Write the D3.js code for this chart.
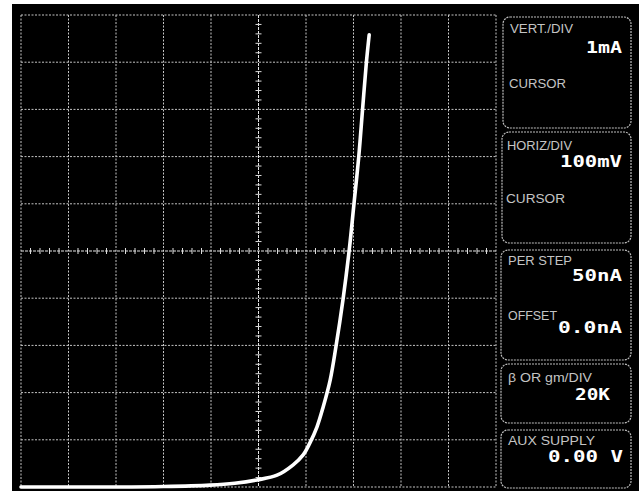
<!DOCTYPE html>
<html>
<head>
<meta charset="utf-8">
<script src="https://cdn.jsdelivr.net/npm/d3@7"></script>
<style>
  html, body { margin: 0; padding: 0; background: #fff; }
  svg { display: block; }
</style>
</head>
<body>
<svg id="chart" width="641" height="494"></svg>
<script>
// ---- data ----
// voltage in mV (100 mV/div), current in mA (1 mA/div)
const voltage_mV = [0, 100, 200, 300, 398, 450, 497, 539, 573, 594, 608, 623, 636, 651, 663, 678, 691, 701, 711, 719, 727, 733];
const current_mA = [0, 0, 0, 0.01, 0.04, 0.08, 0.15, 0.25, 0.47, 0.68, 0.93, 1.27, 1.69, 2.27, 2.97, 3.98, 5.02, 6.0, 6.99, 7.99, 8.98, 9.58];
const xGridTicks = [0, 100, 200, 300, 400, 500, 600, 700, 800, 900, 1000];
const yGridTicks = [0, 1, 2, 3, 4, 5, 6, 7, 8, 9, 10];
const xCenter = 500, yCenter = 5;
const panelLabels = ["VERT./DIV", "CURSOR", "HORIZ/DIV", "CURSOR", "PER STEP", "OFFSET", "β OR gm/DIV", "AUX SUPPLY"];
const panelValues = ["1mA", "100mV", "50nA", "0.0nA", "20K", "0.00 V"];

// ---- layout ----
const svg = d3.select("#chart");
const x = d3.scaleLinear().domain([0, 1000]).range([21, 496]);
const y = d3.scaleLinear().domain([0, 10]).range([487, 15]);

// screen background
svg.append("rect").attr("x", 0).attr("y", 0).attr("width", 641).attr("height", 494).attr("fill", "#fff");
svg.append("rect").attr("x", 12).attr("y", 4).attr("width", 627).attr("height", 487).attr("fill", "#000");

const g = svg.append("g");

// grid lines
g.selectAll("line.vg").data(xGridTicks).enter().append("line")
  .attr("x1", d => x(d)).attr("x2", d => x(d))
  .attr("y1", y(10)).attr("y2", y(0))
  .attr("stroke", d => d === xCenter ? "#e6e6e6" : "#c4c4c4")
  .attr("stroke-width", 1)
  .attr("stroke-dasharray", d => d === xCenter ? "3,1" : "2,1.5");
g.selectAll("line.hg").data(yGridTicks).enter().append("line")
  .attr("y1", d => y(d)).attr("y2", d => y(d))
  .attr("x1", x(0)).attr("x2", x(1000))
  .attr("stroke", d => d === yCenter ? "#e6e6e6" : "#c4c4c4")
  .attr("stroke-width", 1)
  .attr("stroke-dasharray", d => d === yCenter ? "3,1" : "2,1.5");

// minor ticks on the center lines
const xMinor = d3.range(0, 1001, 20).filter(v => v % 100 !== 0);
const yMinor = d3.range(0, 10.001, 0.2).filter(v => Math.abs(v - Math.round(v)) > 1e-6);
g.selectAll("line.xm").data(xMinor).enter().append("line")
  .attr("x1", d => x(d)).attr("x2", d => x(d))
  .attr("y1", y(yCenter) - 3).attr("y2", y(yCenter) + 3)
  .attr("stroke", "#dcdcdc").attr("stroke-width", 1);
g.selectAll("line.ym").data(yMinor).enter().append("line")
  .attr("y1", d => y(d)).attr("y2", d => y(d))
  .attr("x1", x(xCenter) - 3).attr("x2", x(xCenter) + 3)
  .attr("stroke", "#dcdcdc").attr("stroke-width", 1);

// curve
const pts = voltage_mV.map((v, i) => [v, current_mA[i]]);
const line = d3.line().x(d => x(d[0])).y(d => y(d[1])).curve(d3.curveCatmullRom.alpha(0.5));
g.append("path").datum(pts)
  .attr("d", line)
  .attr("fill", "none")
  .attr("stroke", "#fff")
  .attr("stroke-width", 3.6)
  .attr("stroke-linecap", "round")
  .attr("stroke-linejoin", "round");

// side panels
const boxes = [[503, 17, 128], [502, 132, 243], [501, 250, 360], [501, 364, 423], [501, 430, 488]];
svg.selectAll("rect.box").data(boxes).enter().append("rect")
  .attr("x", d => d[0]).attr("y", d => d[1])
  .attr("width", d => 631 - d[0]).attr("height", d => d[2] - d[1])
  .attr("rx", 7).attr("ry", 7)
  .attr("fill", "none").attr("stroke", "#bdbdbd").attr("stroke-width", 1.2)
  .attr("stroke-dasharray", "2,1");

// labels [x, baseline, width]
const labelPos = [[510, 33, 63], [509, 88, 57], [507, 150, 65], [506, 203, 59], [508, 265, 64], [508, 320, 49], [508, 382, 84], [508, 445, 87]];
svg.selectAll("text.lab").data(panelLabels).enter().append("text")
  .attr("x", (d, i) => labelPos[i][0]).attr("y", (d, i) => labelPos[i][1])
  .attr("textLength", (d, i) => labelPos[i][2])
  .attr("lengthAdjust", "spacingAndGlyphs")
  .attr("font-family", "Liberation Sans, Arial, sans-serif")
  .attr("font-size", 12)
  .attr("fill", "#c4c4c4")
  .text(d => d);

// values [xRight, baseline, width]
const valuePos = [[622, 53, 36], [622, 167, 62], [622, 281, 50], [622, 333, 64], [610, 400, 35], [623, 462, 75]];
svg.selectAll("text.val").data(panelValues).enter().append("text")
  .attr("x", (d, i) => valuePos[i][0] - valuePos[i][2]).attr("y", (d, i) => valuePos[i][1])
  .attr("textLength", (d, i) => valuePos[i][2])
  .attr("lengthAdjust", "spacingAndGlyphs")
  .attr("font-family", "DejaVu Sans Mono, monospace")
  .attr("font-weight", "bold")
  .attr("font-size", 16)
  .attr("fill", "#fff")
  .text(d => d);
</script>
</body>
</html>
